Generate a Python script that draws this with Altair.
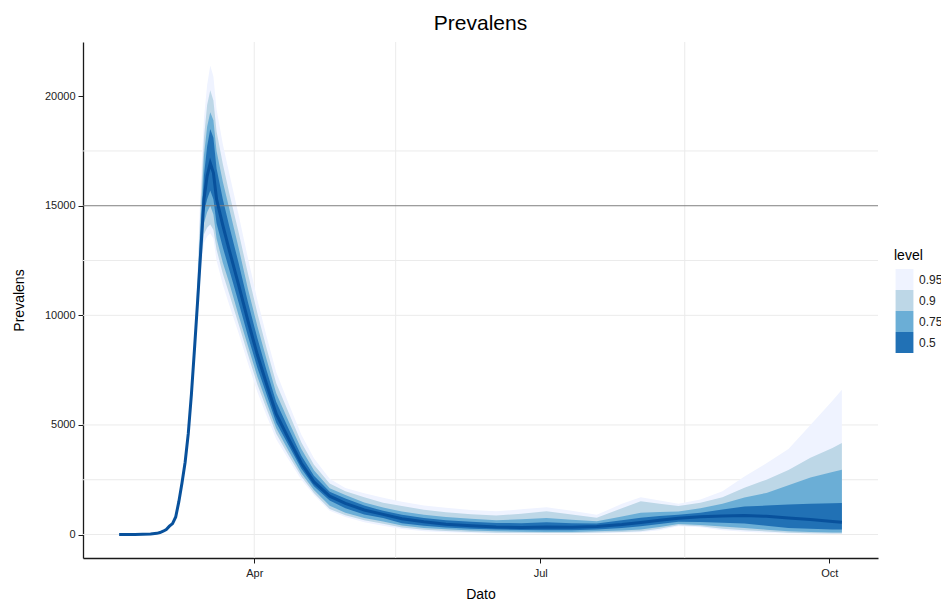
import altair as alt
import pandas as pd

# ---------------- data ----------------
dates = [
    "2020-02-18", "2020-02-23", "2020-02-28", "2020-03-01", "2020-03-02", "2020-03-03",
    "2020-03-04", "2020-03-05", "2020-03-06", "2020-03-07", "2020-03-08", "2020-03-09",
    "2020-03-10", "2020-03-11", "2020-03-12", "2020-03-13", "2020-03-14", "2020-03-15",
    "2020-03-16", "2020-03-17", "2020-03-18", "2020-03-19", "2020-03-20", "2020-03-22",
    "2020-03-24", "2020-03-27", "2020-03-30", "2020-04-02", "2020-04-05", "2020-04-08",
    "2020-04-12", "2020-04-16", "2020-04-20", "2020-04-25", "2020-04-30", "2020-05-06",
    "2020-05-12", "2020-05-18", "2020-05-25", "2020-06-01", "2020-06-09", "2020-06-17",
    "2020-06-25", "2020-07-03", "2020-07-11", "2020-07-19", "2020-07-27", "2020-08-02",
    "2020-08-08", "2020-08-14", "2020-08-21", "2020-08-28", "2020-09-04", "2020-09-11",
    "2020-09-18", "2020-09-25", "2020-10-02", "2020-10-05",
]
median = [
    0, 5, 25, 55, 90, 150, 230, 380, 500, 800, 1500, 2350, 3300, 4600, 6400,
    8500, 10700, 13000, 15300, 16350, 16950, 16500, 15300, 14100, 13000, 11400, 9750,
    8200, 6830, 5500, 4350, 3250, 2400, 1750, 1420, 1120, 920, 720, 580, 470, 400,
    345, 320, 340, 330, 370, 460, 550, 650, 740, 810, 850, 870, 830, 760, 690, 600, 560,
]
rise = [0, 5, 25, 55, 90, 150, 230, 380, 500, 800, 1500, 2350, 3300, 4600, 6400]
lo95 = rise + [
    8300, 10200, 12000, 13300, 13600, 13750, 13500, 12500, 11400, 10500, 9200, 7800,
    6500, 5400, 4350, 3400, 2500, 1800, 1080, 800, 560, 400, 250, 150, 100, 70,
    45, 50, 45, 45, 60, 80, 100, 200, 380, 330, 200, 130, 80, 45, 35, 30, 30,
]
lo90 = rise + [
    8350, 10300, 12300, 13700, 14000, 14150, 13900, 13000, 11900, 11000, 9600, 8200,
    6850, 5700, 4600, 3600, 2650, 1900, 1160, 880, 650, 490, 320, 220, 160, 120,
    85, 80, 65, 65, 95, 120, 150, 260, 420, 380, 270, 200, 140, 80, 60, 50, 45,
]
lo75 = rise + [
    8400, 10450, 12600, 14200, 14700, 15000, 14600, 13500, 12400, 11500, 10000, 8600,
    7200, 6000, 4850, 3800, 2800, 2030, 1310, 1000, 760, 590, 410, 300, 240, 190,
    150, 130, 120, 120, 150, 190, 230, 340, 480, 440, 370, 300, 220, 150, 120, 95, 90,
]
lo50 = rise + [
    8450, 10550, 12800, 14700, 15300, 15700, 15300, 14200, 13100, 12100, 10600, 9050,
    7600, 6350, 5100, 4050, 3000, 2200, 1550, 1200, 920, 760, 520, 400, 320, 270,
    225, 210, 200, 200, 230, 300, 380, 480, 580, 570, 540, 500, 400, 300, 260, 235, 230,
]
hi50 = rise + [
    8600, 11000, 13800, 16400, 17700, 18500, 18100, 16700, 15300, 14100, 12400, 10600,
    8950, 7450, 6050, 4800, 3600, 2680, 1950, 1640, 1320, 1080, 900, 760, 650, 580,
    525, 520, 560, 520, 500, 650, 770, 850, 900, 1000, 1140, 1280, 1320, 1370, 1410, 1430, 1440,
]
hi75 = rise + [
    8750, 11400, 14600, 17300, 18600, 19270, 18900, 17500, 16100, 14900, 13100, 11200,
    9500, 7950, 6450, 5150, 3900, 2930, 2110, 1800, 1460, 1230, 1050, 900, 800, 720,
    650, 700, 760, 680, 610, 820, 1000, 1030, 1050, 1200, 1410, 1690, 1900, 2250, 2600, 2850, 2960,
]
hi90 = rise + [
    8900, 11800, 15400, 18100, 19600, 20270, 19800, 18400, 16900, 15600, 13800, 11900,
    10100, 8450, 6900, 5550, 4200, 3180, 2330, 1970, 1700, 1450, 1300, 1130, 1020, 930,
    870, 950, 1060, 920, 770, 1200, 1520, 1400, 1300, 1450, 1700, 2140, 2500, 2950, 3500, 3950, 4180,
]
hi95 = rise + [
    9100, 12300, 16200, 19000, 20500, 21400, 20900, 19400, 17800, 16500, 14600, 12600,
    10700, 9000, 7400, 5950, 4550, 3480, 2550, 2120, 1880, 1680, 1500, 1330, 1220, 1120,
    1060, 1150, 1250, 1080, 900, 1400, 1700, 1550, 1400, 1600, 1970, 2650, 3250, 3900, 5000, 6100, 6600,
]

levels = ["0.95", "0.9", "0.75", "0.5"]
level_colors = ["#eff3ff", "#bdd7e7", "#6baed6", "#2171b5"]
line_color = "#08519c"

y_ticks = [0, 5000, 10000, 15000, 20000]
h_grid = [0, 2500, 5000, 10000, 12500, 17500]
ref_line = [15000]
v_grid = ["2020-04-01", "2020-05-16", "2020-08-16"]

# ---------------- tables ----------------
rows = []
for lvl, lo, hi in zip(levels, [lo95, lo90, lo75, lo50], [hi95, hi90, hi75, hi50]):
    for d, a, b in zip(dates, lo, hi):
        rows.append({"date": d, "level": lvl, "lo": a, "hi": b})
bands = pd.DataFrame(rows)
line_df = pd.DataFrame({"date": dates, "value": median})
hgrid_df = pd.DataFrame({"value": h_grid})
ref_df = pd.DataFrame({"value": ref_line})
vgrid_df = pd.DataFrame({"date": v_grid})

FONT = "Liberation Sans"

x_scale = alt.Scale(
    type="utc",
    domain=[
        alt.DateTime(year=2020, month=2, date=6, hours=12, utc=True),
        alt.DateTime(year=2020, month=10, date=16, hours=12, utc=True),
    ],
)
x_axis = alt.Axis(
    title="Dato",
    values=[
        alt.DateTime(year=2020, month=4, date=1, utc=True),
        alt.DateTime(year=2020, month=7, date=1, utc=True),
        alt.DateTime(year=2020, month=10, date=1, utc=True),
    ],
    labelExpr="utcFormat(datum.value, '%b')",
    grid=False,
)
y_scale = alt.Scale(domain=[-1070, 22470], nice=False, zero=False)
y_axis = alt.Axis(title="Prevalens", values=y_ticks, format="d", grid=False)

X = alt.X("date:T", scale=x_scale, axis=x_axis)

hgrid = alt.Chart(hgrid_df).mark_rule(color="#ebebeb", strokeWidth=1).encode(
    y=alt.Y("value:Q", scale=y_scale, axis=y_axis)
)
vgrid = alt.Chart(vgrid_df).mark_rule(color="#ebebeb", strokeWidth=1).encode(x=X)

color = alt.Color(
    "level:N",
    scale=alt.Scale(domain=levels, range=level_colors),
    legend=alt.Legend(
        title="level",
        orient="none",
        legendX=811,
        legendY=207,
        symbolType="M-0.85,-1L0.85,-1L0.85,1L-0.85,1Z",
        symbolSize=441,
        symbolStrokeWidth=0,
        symbolOpacity=1,
        rowPadding=0,
        labelFontSize=12,
        labelFont=FONT,
        labelColor="#222222",
        labelOffset=4,
        titleFontSize=14,
        titleFont=FONT,
        titleFontWeight="normal",
        titleColor="black",
        titlePadding=6,
    ),
)

band_layers = []
for lvl in levels:
    band_layers.append(
        alt.Chart(bands)
        .transform_filter(alt.datum.level == lvl)
        .mark_area(opacity=1)
        .encode(
            x=X,
            y=alt.Y("lo:Q", scale=y_scale, axis=y_axis),
            y2="hi:Q",
            color=color,
        )
    )

ref = alt.Chart(ref_df).mark_rule(color="#7f7f7f", strokeWidth=1).encode(
    y=alt.Y("value:Q", scale=y_scale, axis=y_axis)
)

line = alt.Chart(line_df).mark_line(color=line_color, strokeWidth=3).encode(
    x=X, y=alt.Y("value:Q", scale=y_scale, axis=y_axis)
)

chart = (
    alt.layer(hgrid, vgrid, *band_layers, ref, line)
    .properties(
        width=795,
        height=516,
        autosize=alt.AutoSizeParams(type="none"),
        padding={"left": 75, "top": 34, "right": 63, "bottom": 44},
        title=alt.TitleParams(
            "Prevalens",
            fontSize=21,
            font=FONT,
            fontWeight="normal",
            anchor="middle",
            color="black",
            offset=8,
        ),
    )
    .configure_view(stroke=None)
    .configure_axis(
        domainColor="#1a1a1a",
        domainWidth=1.3,
        tickColor="#1a1a1a",
        tickSize=5,
        tickWidth=1,
        labelFont=FONT,
        labelFontSize=11,
        labelColor="#222222",
        titleFont=FONT,
        titleFontSize=14,
        titleFontWeight="normal",
        titleColor="black",
    )
    .configure_axisX(labelPadding=4, titlePadding=9)
    .configure_axisY(labelPadding=3, titlePadding=18)
)

chart.save("out.html", embed_options={"renderer": "svg", "actions": False})
